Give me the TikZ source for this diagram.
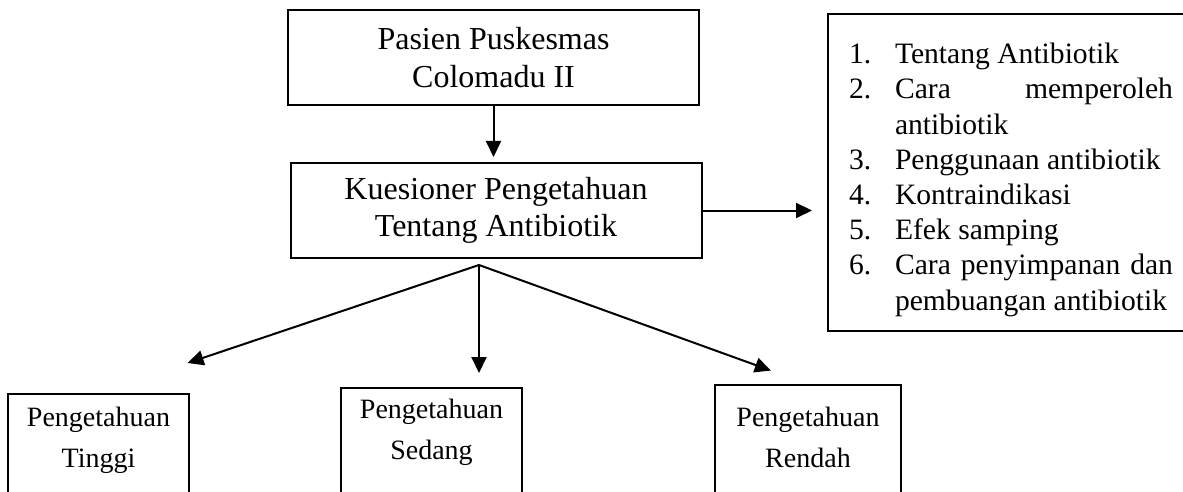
\documentclass[tikz,border=0pt]{standalone}
\usepackage{fontspec}
\setmainfont{Liberation Serif}
\usetikzlibrary{arrows.meta}

\newcommand{\butir}[2]{\par\noindent\hangindent=23pt\hangafter=1\tolerance=10000\hyphenpenalty=10000\makebox[23pt][l]{#1}#2\par}

\begin{document}
\begin{tikzpicture}[x=0.5pt, y=-0.5pt, line width=1pt]

\tikzset{
    kotak/.style={draw, align=center, minimum width=205.5pt, minimum height=47.5pt, font=\fontsize{16}{18.8}\selectfont},
    hasil/.style={draw, anchor=north, align=center, minimum width=90.5pt, text depth=50pt, font=\fontsize{14}{20.5}\selectfont},
    daftar/.style={draw, anchor=north west, text width=162pt, inner xsep=10.5pt, minimum height=158.5pt, align=justify, font=\fontsize{14.8}{17.6}\selectfont},
    panah/.style={-{Triangle[length=8pt, width=7.5pt]}}
}

\useasboundingbox (0,0) rectangle (1183,492);
\clip (0,0) rectangle (1183,492);

\node[kotak] (pasien) at (493.5,57.5) {Pasien Puskesmas\\Colomadu II};
\node[kotak] (kuesioner) at (496,210.5) {Kuesioner Pengetahuan\\Tentang Antibiotik};

\node[daftar] (materi) at (827,13) {%
    \butir{1.}{Tentang Antibiotik}
    \butir{2.}{Cara memperoleh antibiotik}
    \butir{3.}{Penggunaan antibiotik}
    \butir{4.}{Kontraindikasi}
    \butir{5.}{Efek samping}
    \butir{6.}{Cara penyimpanan dan pembuangan antibiotik}};

\node[hasil, inner ysep=6.4pt] (tinggi) at (98.5,393) {Pengetahuan\\Tinggi};
\node[hasil, inner ysep=5.45pt] (sedang) at (431.5,387) {Pengetahuan\\Sedang};
\node[hasil, inner ysep=10.95pt, minimum width=93pt] (rendah) at (808,384) {Pengetahuan\\Rendah};

\draw[panah, shorten >=2.5pt] (pasien.south) -- (pasien.south |- kuesioner.north);
\draw[panah, shorten >=7.5pt] (kuesioner.east) -- (kuesioner.east -| materi.west);

\coordinate (cabang) at (479,265);
\draw[panah, shorten >=47pt] (cabang) -- (tinggi.north);
\draw[panah, shorten >=7pt] (cabang) -- (cabang |- sedang.north);
\draw[panah, shorten >=19.75pt] (cabang) -- (rendah.north);

\end{tikzpicture}
\end{document}
